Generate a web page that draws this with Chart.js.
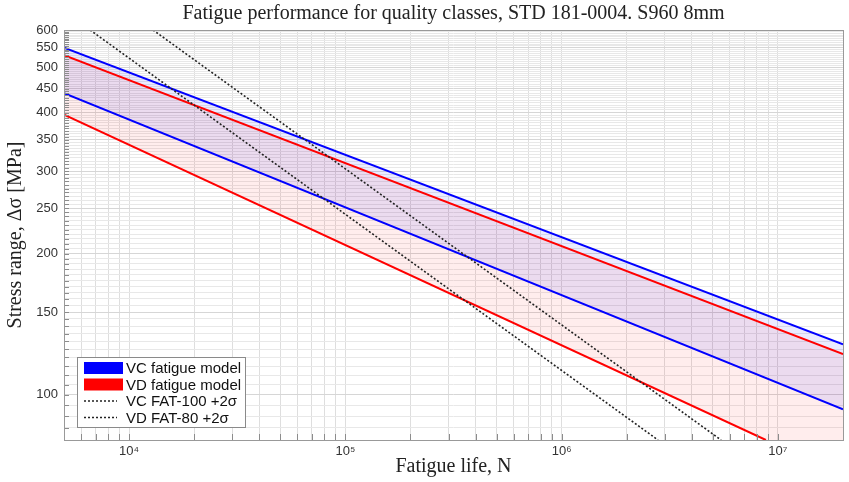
<!DOCTYPE html>
<html lang="en">
<head>
    <meta charset="UTF-8">
    <title>Fatigue performance for quality classes</title>
    <script src="https://cdn.jsdelivr.net/npm/chart.js"></script>
    <style>
        body {
            margin: 0;
            background-color: white;
        }
        .chart-container {
            width: 849px;
            height: 482px;
        }
    </style>
</head>
<body>
    <div class="chart-container">
        <canvas id="snChart" width="849" height="482"></canvas>
    </div>

    <script>
        // S-N curves, fatigue life N [cycles] vs stress range [MPa]
        const lifeEnds = [5e3, 2e7];
        const vcUpper = [550, 128];
        const vcLower = [440, 93];
        const vdUpper = [530, 122];
        const vdLowerLife = [5e3, 8.8e6, 2e7];
        const vdLower = [396, 80, 80];
        const fat100Life = [1.29e4, 5.46e6];
        const fat100Stress = [600, 80];
        const fat80Life = [6.6e3, 2.79e6];
        const fat80Stress = [600, 80];

        const xLabels = {1e4: '10⁴', 1e5: '10⁵', 1e6: '10⁶', 1e7: '10⁷'};
        const yLabels = [100, 150, 200, 250, 300, 350, 400, 450, 500, 550, 600];

        const chartTitle = 'Fatigue performance for quality classes, STD 181-0004. S960 8mm';

        const legendItems = [
            {text: 'VC fatigue model', color: '#0000ff', kind: 'box'},
            {text: 'VD fatigue model', color: '#ff0000', kind: 'box'},
            {text: 'VC FAT-100 +2σ', color: '#222', kind: 'dot'},
            {text: 'VD FAT-80 +2σ', color: '#222', kind: 'dot'}
        ];

        const toPoints = (xs, ys) => xs.map((x, i) => ({x: x, y: ys[i]}));

        const serif = '"Liberation Serif", "DejaVu Serif", serif';
        const sans = '"Liberation Sans", Arial, sans-serif';

        // title centred over the plot area rather than the canvas
        const plotTitle = {
            id: 'plotTitle',
            afterDraw(chart) {
                const {ctx, chartArea: a} = chart;
                ctx.save();
                ctx.font = '20px ' + serif;
                ctx.fillStyle = '#222';
                ctx.textAlign = 'center';
                ctx.textBaseline = 'middle';
                ctx.fillText(chartTitle, (a.left + a.right) / 2, 14);
                ctx.restore();
            }
        };

        // box around the plot plus inward tick marks
        const frameTicks = {
            id: 'frameTicks',
            afterDatasetsDraw(chart) {
                const {ctx, chartArea: a, scales} = chart;
                ctx.save();
                ctx.strokeStyle = '#8c8c8c';
                ctx.lineWidth = 1;
                ctx.beginPath();
                scales.x.ticks.forEach(t => {
                    const px = Math.round(scales.x.getPixelForValue(t.value)) + 0.5;
                    ctx.moveTo(px, a.bottom);
                    ctx.lineTo(px, a.bottom - 6);
                });
                scales.y.ticks.forEach(t => {
                    const py = Math.round(scales.y.getPixelForValue(t.value)) + 0.5;
                    ctx.moveTo(a.left, py);
                    ctx.lineTo(a.left + 5, py);
                });
                ctx.stroke();
                ctx.strokeStyle = '#999';
                ctx.strokeRect(Math.round(a.left) + 0.5, Math.round(a.top) + 0.5,
                    Math.round(a.right - a.left), Math.round(a.bottom - a.top));
                ctx.restore();
            }
        };

        // legend box in the lower left corner of the plot
        const cornerLegend = {
            id: 'cornerLegend',
            afterDraw(chart) {
                const {ctx, chartArea: a} = chart;
                const x0 = a.left + 13, y0 = a.bottom - 83;
                ctx.save();
                ctx.fillStyle = 'white';
                ctx.fillRect(x0, y0, 168, 70);
                ctx.strokeStyle = '#8a8a8a';
                ctx.lineWidth = 1;
                ctx.strokeRect(x0 + 0.5, y0 + 0.5, 168, 70);
                ctx.font = '15px ' + sans;
                ctx.textBaseline = 'middle';
                legendItems.forEach((item, i) => {
                    const cy = y0 + 11 + i * 16.5;
                    if (item.kind === 'box') {
                        ctx.fillStyle = item.color;
                        ctx.fillRect(x0 + 7, cy - 6, 39, 12);
                    } else {
                        ctx.strokeStyle = item.color;
                        ctx.lineWidth = 1.5;
                        ctx.setLineDash([2, 2]);
                        ctx.beginPath();
                        ctx.moveTo(x0 + 7, cy);
                        ctx.lineTo(x0 + 40, cy);
                        ctx.stroke();
                        ctx.setLineDash([]);
                    }
                    ctx.fillStyle = '#111';
                    ctx.fillText(item.text, x0 + 49, cy + 1);
                });
                ctx.restore();
            }
        };

        const ctx = document.getElementById('snChart').getContext('2d');
        new Chart(ctx, {
            type: 'line',
            data: {
                datasets: [
                    {
                        label: 'VC FAT-100 +2σ',
                        data: toPoints(fat100Life, fat100Stress),
                        borderColor: '#222',
                        borderWidth: 1.6,
                        borderDash: [2, 2],
                        fill: false
                    },
                    {
                        label: 'VD FAT-80 +2σ',
                        data: toPoints(fat80Life, fat80Stress),
                        borderColor: '#222',
                        borderWidth: 1.6,
                        borderDash: [2, 2],
                        fill: false
                    },
                    {
                        label: 'VC fatigue model',
                        data: toPoints(lifeEnds, vcUpper),
                        borderColor: '#0000ff',
                        borderWidth: 2,
                        backgroundColor: 'rgba(0, 0, 255, 0.08)',
                        fill: '+1'
                    },
                    {
                        label: 'VC lower',
                        data: toPoints(lifeEnds, vcLower),
                        borderColor: '#0000ff',
                        borderWidth: 2,
                        fill: false
                    },
                    {
                        label: 'VD fatigue model',
                        data: toPoints(lifeEnds, vdUpper),
                        borderColor: '#ff0000',
                        borderWidth: 2,
                        backgroundColor: 'rgba(255, 0, 0, 0.07)',
                        fill: '+1'
                    },
                    {
                        label: 'VD lower',
                        data: toPoints(vdLowerLife, vdLower),
                        borderColor: '#ff0000',
                        borderWidth: 2,
                        fill: false,
                        // the part along the axis floor only bounds the band
                        segment: {
                            borderColor: c => c.p0DataIndex === 1 ? 'transparent' : undefined
                        }
                    }
                ]
            },
            options: {
                responsive: false,
                animation: false,
                events: [],
                elements: {
                    point: {radius: 0},
                    line: {tension: 0}
                },
                layout: {
                    padding: {left: 0, right: 6, top: 30, bottom: 0}
                },
                scales: {
                    x: {
                        type: 'logarithmic',
                        min: 5e3,
                        max: 2e7,
                        afterBuildTicks: scale => {
                            const ticks = [];
                            for (let d = 1e3; d <= 1e7; d *= 10) {
                                for (let k = 1; k <= 9; k++) {
                                    const v = k * d;
                                    if (v >= 5e3 && v <= 2e7) ticks.push({value: v});
                                }
                            }
                            scale.ticks = ticks;
                        },
                        afterFit: scale => { scale.height = 42; },
                        ticks: {
                            autoSkip: false,
                            maxRotation: 0,
                            padding: 4,
                            color: '#333',
                            font: {family: sans, size: 13},
                            callback: v => xLabels[v] || ''
                        },
                        grid: {
                            color: '#dedede',
                            drawTicks: false
                        },
                        border: {display: false},
                        title: {
                            display: true,
                            text: 'Fatigue life, N',
                            color: '#222',
                            font: {family: serif, size: 20},
                            padding: {top: 0, bottom: 3}
                        }
                    },
                    y: {
                        type: 'logarithmic',
                        min: 80,
                        max: 600,
                        afterBuildTicks: scale => {
                            const ticks = [];
                            for (let v = 80; v <= 600; v += 5) ticks.push({value: v});
                            scale.ticks = ticks;
                        },
                        afterFit: scale => { scale.width = 64; },
                        ticks: {
                            autoSkip: false,
                            padding: 6,
                            color: '#333',
                            font: {family: sans, size: 13},
                            callback: v => yLabels.includes(v) ? String(v) : ''
                        },
                        grid: {
                            color: c => yLabels.includes(c.tick.value) ? '#d6d6d6' : '#e8e8e8',
                            drawTicks: false
                        },
                        border: {display: false},
                        title: {
                            display: true,
                            text: 'Stress range, Δσ [MPa]',
                            color: '#222',
                            font: {family: serif, size: 20},
                            padding: {top: 4, bottom: 0}
                        }
                    }
                },
                plugins: {
                    legend: {display: false},
                    tooltip: {enabled: false},
                    title: {display: false},
                    filler: {drawTime: 'beforeDatasetsDraw'}
                }
            },
            plugins: [frameTicks, cornerLegend, plotTitle]
        });
    </script>
</body>
</html>
